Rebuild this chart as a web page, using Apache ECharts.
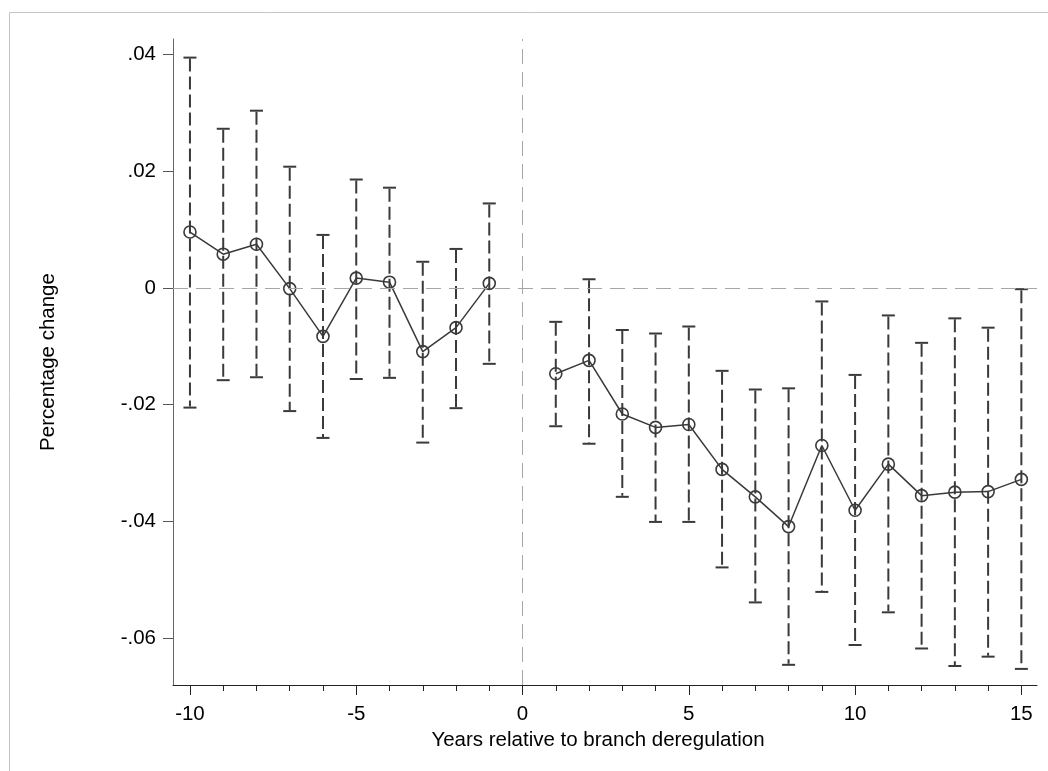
<!DOCTYPE html>
<html>
<head>
<meta charset="utf-8">
<script src="https://cdn.jsdelivr.net/npm/echarts@6/dist/echarts.min.js"></script>
<style>
html,body{margin:0;padding:0;background:#fff;}
#chart{width:1048px;height:771px;}
</style>
</head>
<body>
<div id="chart"></div>
<script>
// ---- data ----
const years = [-10,-9,-8,-7,-6,-5,-4,-3,-2,-1,1,2,3,4,5,6,7,8,9,10,11,12,13,14,15];
const estimates = [0.0096,0.0058,0.0075,-0.0001,-0.0083,0.0017,0.0010,-0.0109,-0.0068,0.0008,
  -0.0147,-0.0124,-0.0216,-0.0239,-0.0234,-0.0311,-0.0358,-0.0409,-0.0270,-0.0381,-0.0302,-0.0356,-0.0350,-0.0349,-0.0328];
const upperCI = [0.0395,0.0273,0.0304,0.0208,0.0091,0.0186,0.0172,0.0045,0.0067,0.0145,
  -0.0058,0.0015,-0.0072,-0.0078,-0.0066,-0.0142,-0.0174,-0.0172,-0.0023,-0.0149,-0.0047,-0.0094,-0.0052,-0.0068,-0.0002];
const lowerCI = [-0.0205,-0.0158,-0.0153,-0.0211,-0.0257,-0.0156,-0.0154,-0.0265,-0.0206,-0.0130,
  -0.0237,-0.0267,-0.0358,-0.0401,-0.0401,-0.0479,-0.0539,-0.0646,-0.0521,-0.0612,-0.0556,-0.0618,-0.0648,-0.0632,-0.0653];
const xMajorTicks = [-10,-5,0,5,10,15];
const xMinorTicks = [-10,-9,-8,-7,-6,-5,-4,-3,-2,-1,0,1,2,3,4,5,6,7,8,9,10,11,12,13,14,15];
const yTickValues = [-0.06,-0.04,-0.02,0,0.02,0.04];
const yTickLabels = ['-.06','-.04','-.02','0','.02','.04'];
const xTitle = 'Years relative to branch deregulation';
const yTitle = 'Percentage change';

// ---- build ----
const FONT = '"Liberation Sans", Arial, sans-serif';
const FS = 20.5;
const DARK = '#3a3a3a';
const pre = [], post = [], bars = [];
years.forEach((y, i) => {
  (y < 0 ? pre : post).push([y, estimates[i]]);
  bars.push([y, lowerCI[i], upperCI[i]]);
});

const chart = echarts.init(document.getElementById('chart'), null, {renderer: 'canvas'});

function renderBar(params, api) {
  const x = api.value(0);
  const lo = api.coord([x, api.value(1)]);
  const hi = api.coord([x, api.value(2)]);
  const hw = 6.5;
  const st = {stroke: DARK, lineWidth: 2};
  return {
    type: 'group',
    children: [
      {type: 'line', shape: {x1: hi[0], y1: hi[1] + 1, x2: lo[0], y2: lo[1] - 1},
       style: {stroke: DARK, lineWidth: 2, lineDash: [13, 5]}},
      {type: 'line', shape: {x1: hi[0] - hw, y1: hi[1], x2: hi[0] + hw, y2: hi[1]}, style: st},
      {type: 'line', shape: {x1: lo[0] - hw, y1: lo[1], x2: lo[0] + hw, y2: lo[1]}, style: st}
    ]
  };
}

const lineSeries = (data) => ({
  type: 'line',
  data: data,
  xAxisIndex: 0,
  symbol: 'circle',
  symbolSize: 12,
  showAllSymbol: true,
  lineStyle: {color: DARK, width: 1.5},
  itemStyle: {color: 'rgba(0,0,0,0)', borderColor: DARK, borderWidth: 1.6},
  emphasis: {disabled: true},
  animation: false,
  z: 4
});

const option = {
  backgroundColor: '#ffffff',
  animation: false,
  textStyle: {fontFamily: FONT},
  grid: {left: 173, right: 11, top: 39, bottom: 86, containLabel: false, outerBoundsMode: 'none'},
  graphic: [
    {type: 'rect', left: 7, top: 10, silent: true, z: -10,
     shape: {width: 1200, height: 900},
     style: {fill: 'none', stroke: '#c4c4c4', lineWidth: 1}}
  ],
  xAxis: [
    {
      type: 'value', min: -10.51, max: 15.47, position: 'bottom',
      name: xTitle, nameLocation: 'middle', nameGap: 37,
      nameTextStyle: {fontSize: FS, color: '#000', fontFamily: FONT, padding: [0, 14, 0, 0]},
      axisLine: {show: true, onZero: false, lineStyle: {color: '#222', width: 1}},
      axisTick: {show: true, length: 6, customValues: xMinorTicks, lineStyle: {color: '#222'}},
      axisLabel: {show: true, customValues: xMajorTicks, margin: 19, fontSize: FS, color: '#000', fontFamily: FONT},
      splitLine: {show: false}
    },
    {
      type: 'value', min: -10.51, max: 15.47, position: 'bottom',
      axisLine: {show: false, onZero: false},
      axisTick: {show: true, length: 10, customValues: xMajorTicks, lineStyle: {color: '#222'}},
      axisLabel: {show: false},
      splitLine: {show: false}
    }
  ],
  yAxis: {
    type: 'value', min: -0.06806, max: 0.04269,
    name: yTitle, nameLocation: 'middle', nameGap: 114,
    nameTextStyle: {fontSize: FS, color: '#000', fontFamily: FONT},
    axisLine: {show: true, onZero: false, lineStyle: {color: '#666', width: 1}},
    axisTick: {show: true, length: 10, customValues: yTickValues, lineStyle: {color: '#555'}},
    axisLabel: {
      show: true, customValues: yTickValues, margin: 17, fontSize: FS, color: '#000', fontFamily: FONT,
      formatter: (v) => {
        let best = 0;
        yTickValues.forEach((t, i) => { if (Math.abs(t - v) < Math.abs(yTickValues[best] - v)) best = i; });
        return yTickLabels[best];
      }
    },
    splitLine: {show: false}
  },
  series: [
    {
      type: 'custom',
      xAxisIndex: 0,
      data: bars,
      renderItem: renderBar,
      encode: {x: 0, y: [1, 2]},
      silent: true,
      z: 3,
      markLine: {
        silent: true,
        symbol: ['none', 'none'],
        label: {show: false},
        lineStyle: {color: '#a6a6a6', width: 1, type: [15, 8]},
        data: [{xAxis: 0}, {yAxis: 0}]
      }
    },
    lineSeries(pre),
    lineSeries(post)
  ]
};
chart.setOption(option);
</script>
</body>
</html>
